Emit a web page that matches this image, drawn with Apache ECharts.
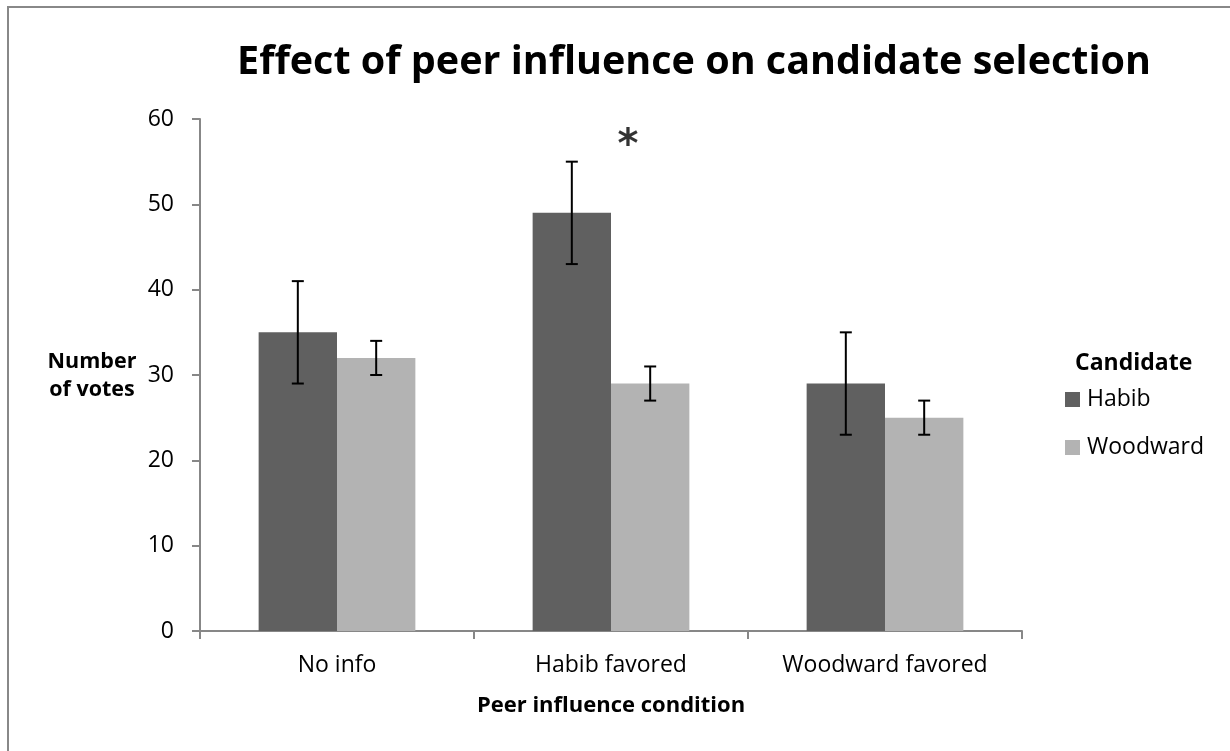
<!DOCTYPE html>
<html>
<head>
<meta charset="utf-8">
<script src="https://cdn.jsdelivr.net/npm/echarts@6/dist/echarts.min.js"></script>
<style>
  html, body { margin: 0; padding: 0; background: #fff; }
  #chart { width: 1230px; height: 751px; }
</style>
</head>
<body>
<div id="chart"></div>
<script>
// data
var conditions = ['No info', 'Habib favored', 'Woodward favored'];
var habibVotes = [35, 49, 29];
var habibErr = [6, 6, 6];
var woodwardVotes = [32, 29, 25];
var woodwardErr = [2, 2, 2];
var yTicks = [0, 10, 20, 30, 40, 50, 60];
// significance marker
var sigCondition = 'Habib favored';
var sigLevel = 57.5;

var FONT = '"Open Sans", "Noto Sans", sans-serif';
var BAR_W = 0.286; // fraction of category band

var myChart = echarts.init(document.getElementById('chart'));

function errorSeries(name, values, errs, side) {
    var data = values.map(function (v, i) { return [i, v - errs[i], v + errs[i]]; });
    return {
        name: name + ' error',
        type: 'custom',
        silent: true,
        z: 5,
        data: data,
        encode: { x: 0, y: [1, 2] },
        renderItem: function (params, api) {
            var band = api.size([1, 0])[0];
            var dx = side * band * BAR_W / 2;
            var lo = api.coord([api.value(0), api.value(1)]);
            var hi = api.coord([api.value(0), api.value(2)]);
            var x = lo[0] + dx;
            var cap = 6;
            var st = { stroke: '#000', lineWidth: 2 };
            return {
                type: 'group',
                children: [
                    { type: 'line', shape: { x1: x, y1: lo[1], x2: x, y2: hi[1] }, style: st },
                    { type: 'line', shape: { x1: x - cap, y1: lo[1], x2: x + cap, y2: lo[1] }, style: st },
                    { type: 'line', shape: { x1: x - cap, y1: hi[1], x2: x + cap, y2: hi[1] }, style: st }
                ]
            };
        }
    };
}

var option = {
    animation: false,
    backgroundColor: '#fff',
    textStyle: { fontFamily: FONT },
    title: [
        {
            text: 'Effect of peer influence on candidate selection',
            left: 689, top: 38,
            textAlign: 'center',
            textStyle: { fontFamily: FONT, fontSize: 39.5, fontWeight: 'bold', color: '#000' }
        },
        {
            text: 'Candidate',
            left: 1075, top: 352,
            padding: 0,
            textStyle: { fontFamily: FONT, fontSize: 23, fontWeight: 'bold', color: '#000' }
        }
    ],
    legend: {
        orient: 'vertical',
        left: 1065, top: 388,
        padding: 0,
        itemWidth: 15, itemHeight: 15, itemGap: 25,
        icon: 'rect',
        data: ['Habib', 'Woodward'],
        textStyle: { fontFamily: FONT, fontSize: 23, color: '#000', padding: [0, 0, 0, 2] }
    },
    grid: { left: 200, right: 208, top: 119, bottom: 120 },
    xAxis: {
        type: 'category',
        data: conditions,
        name: 'Peer influence condition',
        nameLocation: 'middle',
        nameGap: 75,
        nameTextStyle: { fontFamily: FONT, fontSize: 22, fontWeight: 'bold', color: '#000', verticalAlign: 'middle' },
        axisLine: { lineStyle: { color: '#878787', width: 2 } },
        axisTick: { show: true, length: 8, alignWithLabel: false, lineStyle: { color: '#878787', width: 2 } },
        axisLabel: { fontFamily: FONT, fontSize: 23, color: '#000', margin: 23 }
    },
    yAxis: {
        type: 'value',
        min: yTicks[0], max: yTicks[yTicks.length - 1], interval: 10,
        axisLine: { show: true, lineStyle: { color: '#878787', width: 2 } },
        axisTick: { show: true, length: 8, lineStyle: { color: '#878787', width: 2 } },
        splitLine: { show: false },
        axisLabel: { fontFamily: FONT, fontSize: 23, color: '#000', margin: 26 }
    },
    series: [
        {
            name: 'Habib', type: 'bar', data: habibVotes,
            barWidth: (BAR_W * 100) + '%', barGap: '0%',
            itemStyle: { color: '#606060' }
        },
        {
            name: 'Woodward', type: 'bar', data: woodwardVotes,
            barWidth: (BAR_W * 100) + '%', barGap: '0%',
            itemStyle: { color: '#b3b3b3' }
        },
        errorSeries('Habib', habibVotes, habibErr, -1),
        errorSeries('Woodward', woodwardVotes, woodwardErr, 1),
        {
            name: 'significance', type: 'scatter',
            symbol: 'circle', symbolSize: 1, silent: true,
            itemStyle: { color: 'rgba(0,0,0,0)' },
            data: [[sigCondition, sigLevel]],
            label: {
                show: true, formatter: '*', position: 'inside', offset: [17, 6],
                fontFamily: '"DejaVu Sans", sans-serif', fontSize: 40, fontWeight: 'bold', color: '#000'
            }
        }
    ],
    graphic: [
        {
            type: 'rect', silent: true, z: -1,
            shape: { x: 8, y: 7, width: 1400, height: 900 },
            style: { fill: 'none', stroke: '#888', lineWidth: 2 }
        },
        {
            // y axis title
            type: 'text', silent: true,
            x: 92, y: 376,
            style: {
                text: 'Number\nof votes',
                fontFamily: FONT, fontSize: 21.5, fontWeight: 'bold', fill: '#000',
                align: 'center', verticalAlign: 'middle', lineHeight: 28
            }
        }
    ]
};

myChart.setOption(option);
</script>
</body>
</html>
